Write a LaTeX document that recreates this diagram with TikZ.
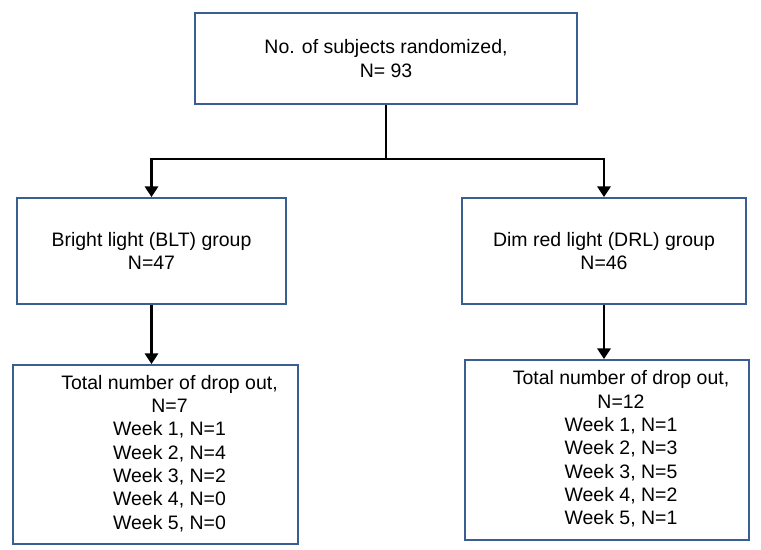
\documentclass[tikz,border=0pt]{standalone}
\usepackage{fontspec}
\setmainfont{Liberation Sans}
\usetikzlibrary{arrows.meta}
\definecolor{boxblue}{RGB}{58,94,146}
\tikzset{
  flowbox/.style={draw=boxblue,line width=1.4pt,inner sep=0pt,align=center,
    font=\fontsize{14.6}{17.5}\selectfont},
  flowarrow/.style={line width=1.6pt,-{Triangle[width=10pt,length=8pt]}}
}
\begin{document}
\begin{tikzpicture}[x=0.75pt,y=-0.75pt]
  \useasboundingbox (0,0) rectangle (761,550);
  \node[flowbox,minimum width=382*0.75pt,minimum height=91*0.75pt] (rand) at (386,58.5)
    {No. of subjects randomized,\\N= 93};
  \node[flowbox,minimum width=269*0.75pt,minimum height=106*0.75pt] (blt) at (151.5,251)
    {Bright light (BLT) group\\N=47};
  \node[flowbox,minimum width=284*0.75pt,minimum height=106*0.75pt] (drl) at (604,251)
    {Dim red light (DRL) group\\N=46};
  \node[flowbox,minimum width=285*0.75pt,minimum height=179*0.75pt] (bltdrop) at (155.5,454.5)
    {\hspace*{21pt}\begin{tabular}{@{}c@{}}Total number of drop out,\\N=7\\
      Week 1, N=1\\Week 2, N=4\\Week 3, N=2\\Week 4, N=0\\Week 5, N=0\end{tabular}};
  \node[flowbox,minimum width=284*0.75pt,minimum height=180*0.75pt] (drldrop) at (607,450)
    {\hspace*{21pt}\begin{tabular}{@{}c@{}}Total number of drop out,\\N=12\\
      Week 1, N=1\\Week 2, N=3\\Week 3, N=5\\Week 4, N=2\\Week 5, N=1\end{tabular}};
  \coordinate (split) at (rand.south |- 0,159);
  \draw[line width=1.6pt] (rand.south) -- (split);
  \draw[flowarrow] (split) -| (blt.north);
  \draw[flowarrow] (split) -| (drl.north);
  \draw[flowarrow] (blt.south) -- (blt.south |- bltdrop.north);
  \draw[flowarrow] (drl.south) -- (drl.south |- drldrop.north);
\end{tikzpicture}
\end{document}
